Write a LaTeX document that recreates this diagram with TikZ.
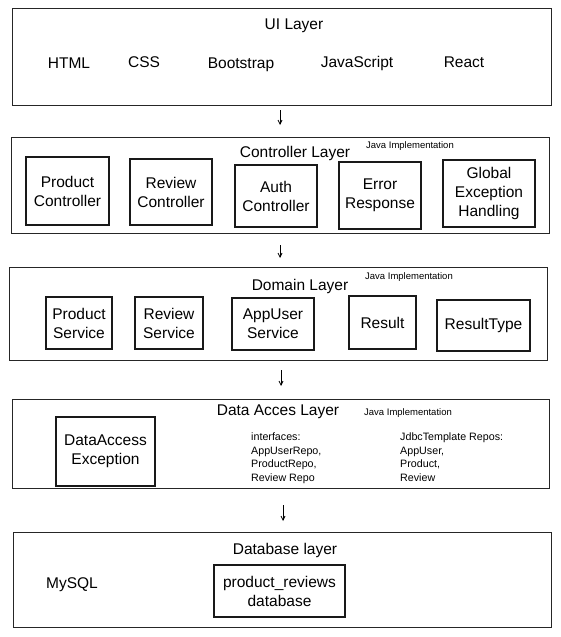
\documentclass[tikz,border=0pt]{standalone}
\usepackage{fontspec}
\setmainfont{Liberation Sans}
\usetikzlibrary{arrows.meta}
\begin{document}
\begin{tikzpicture}[x=1pt,y=-1pt,
  layer/.style={draw=black!85,line width=1.3pt,fill=none},
  comp/.style={draw=black!90,line width=1.25pt,fill=white,align=center,inner sep=0pt,font=\fontsize{15.5}{19}\selectfont},
  ttl/.style={font=\fontsize{15.5}{18}\selectfont,inner sep=0pt},
  item/.style={font=\fontsize{15.5}{18}\selectfont,inner sep=0pt},
  java/.style={font=\fontsize{9.5}{11}\selectfont,inner sep=0pt},
  small/.style={font=\fontsize{10.7}{13.4}\selectfont,inner sep=0pt,align=left},
  flow/.style={-{Straight Barb[length=4pt,width=4pt]},line width=0.8pt}]
\useasboundingbox (0,0) rectangle (560,637);
% UI layer
\node[layer,minimum width=539pt,minimum height=97pt,anchor=north west] (ui) at (12,8) {};
\node[ttl] (uit) at (294,26) {UI Layer};
\node[item] (html) at (69,63) {HTML};
\node[item] (css) at (144,62) {CSS};
\node[item] (boot) at (241,65) {Bootstrap};
\node[item] (js) at (357,63) {JavaScript};
\node[item] (react) at (464,62) {React};
% Controller layer
\node[layer,minimum width=538pt,minimum height=96pt,anchor=north west] (ctl) at (11,137) {};
\node[ttl] (ctlt) at (295,153) {Controller Layer};
\node[java] (j1) at (410,146) {Java Implementation};
\node[comp,minimum width=83pt,minimum height=68pt] (pc) at (67.5,191) {Product\\Controller};
\node[comp,minimum width=82pt,minimum height=66pt] (rc) at (171,192) {Review\\Controller};
\node[comp,minimum width=82pt,minimum height=62pt] (ac) at (276,196) {Auth\\Controller};
\node[comp,minimum width=82pt,minimum height=67pt] (er) at (380,195.5) {Error\\Response};
\node[comp,minimum width=92pt,minimum height=67pt] (ge) at (489,193.5) {Global\\Exception\\Handling};
% Domain layer
\node[layer,minimum width=538pt,minimum height=93pt,anchor=north west] (dom) at (9,267) {};
\node[ttl] (domt) at (300,286) {Domain Layer};
\node[java] (j2) at (409,277) {Java Implementation};
\node[comp,minimum width=66pt,minimum height=52pt] (ps) at (79,323) {Product\\Service};
\node[comp,minimum width=68pt,minimum height=52pt] (rs) at (169,323) {Review\\Service};
\node[comp,minimum width=82pt,minimum height=52pt] (as) at (273,324) {AppUser\\Service};
\node[comp,minimum width=67pt,minimum height=53pt] (res) at (382.5,322.5) {Result};
\node[comp,minimum width=93pt,minimum height=51pt] (rt) at (483.5,325.5) {ResultType};
% Data access layer
\node[layer,minimum width=537pt,minimum height=89pt,anchor=north west] (dal) at (12,399) {};
\node[ttl] (dalt) at (278,412) {Data Acces Layer};
\node[java] (j3) at (408,413) {Java Implementation};
\node[comp,minimum width=99pt,minimum height=69pt] (dae) at (105.5,451.5) {DataAccess\\Exception};
\node[small,anchor=north west] (intf) at (251,433) {interfaces:\\AppUserRepo,\\ProductRepo,\\Review Repo};
\node[small,anchor=north west] (jdbc) at (400,433) {JdbcTemplate Repos:\\AppUser,\\Product,\\Review};
% Database layer
\node[layer,minimum width=538pt,minimum height=95pt,anchor=north west] (db) at (13,532) {};
\node[ttl] (dbt) at (285,550) {Database layer};
\node[item] (mysql) at (72,585) {MySQL};
\node[comp,minimum width=131pt,minimum height=52pt] (prdb) at (279.5,591) {product\_reviews\\database};
% arrows
\coordinate (a1) at (280,110); \coordinate (b1) at (280,125);
\coordinate (a2) at (280,245); \coordinate (b2) at (280,258);
\coordinate (a3) at (281,370); \coordinate (b3) at (281,386);
\coordinate (a4) at (283,505); \coordinate (b4) at (283,521);
\draw[flow] (a1) -- (b1);
\draw[flow] (a2) -- (b2);
\draw[flow] (a3) -- (b3);
\draw[flow] (a4) -- (b4);
\end{tikzpicture}
\end{document}
